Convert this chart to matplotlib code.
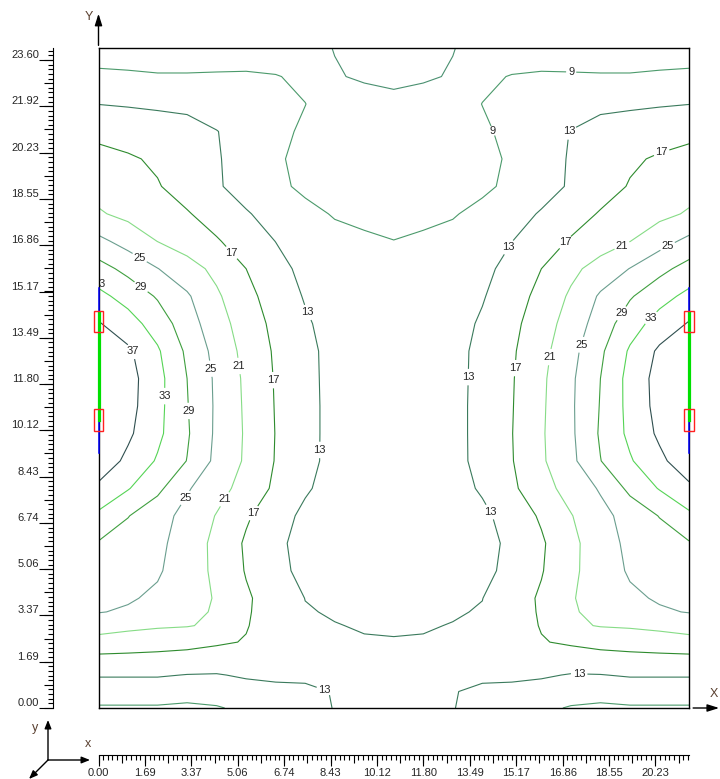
import numpy as np
import matplotlib.pyplot as plt
from matplotlib.patches import Rectangle, FancyArrowPatch

plt.rcParams['font.family'] = ['Liberation Sans', 'DejaVu Sans']

# room size (m)
room_w = 21.45
room_h = 24.04

x_grid = np.linspace(0, room_w, 21)
y_grid = [0.0, 0.6, 1.2, 1.8, 2.4, 3.0, 3.5, 4.0, 5.0, 6.0, 7.0, 8.0, 9.0, 10.0,
          11.0, 12.0, 13.0, 14.0, 15.0, 16.0, 17.0, 18.0, 19.0, 20.0, 21.0, 22.0,
          23.0, 24.04]

# illuminance (lx), one row per y_grid value
lux = np.array([
    [8.6, 8.6, 8.6, 8.3, 8.7, 9.8, 10.9, 12.0, 13.1, 14.0, 14.5, 14.0, 13.1, 12.0, 10.9, 9.8, 8.7, 8.3, 8.6, 8.6, 8.6],
    [10.9, 10.9, 10.9, 10.5, 10.8, 11.65, 12.2, 12.6, 13.1, 14.2, 14.6, 14.2, 13.1, 12.6, 12.2, 11.65, 10.8, 10.5, 10.9, 10.9, 10.9],
    [13.3, 13.3, 13.3, 12.9, 12.8, 13.4, 13.6, 13.4, 13.6, 14.0, 14.2, 14.0, 13.6, 13.4, 13.6, 13.4, 12.8, 12.9, 13.3, 13.3, 13.3],
    [16.1, 16.0, 15.8, 15.5, 15.2, 14.8, 14.2, 13.8, 13.7, 13.6, 13.7, 13.6, 13.7, 13.8, 14.2, 14.8, 15.2, 15.5, 15.8, 16.0, 16.1],
    [19.4, 19.0, 18.7, 18.3, 17.5, 16.8, 14.8, 13.8, 13.5, 13.2, 13.2, 13.2, 13.5, 13.8, 14.8, 16.8, 17.5, 18.3, 18.7, 19.0, 19.4],
    [22.9, 22.0, 21.45, 21.2, 20.4, 17.2, 15.3, 13.4, 13.1, 12.8, 12.6, 12.8, 13.1, 13.4, 15.3, 17.2, 20.4, 21.2, 21.45, 22.0, 22.9],
    [25.15, 24.6, 22.95, 22.0, 20.6, 17.4, 15.2, 13.2, 12.75, 12.4, 12.2, 12.4, 12.75, 13.2, 15.2, 17.4, 20.6, 22.0, 22.95, 24.6, 25.15],
    [25.9, 25.35, 24.4, 22.6, 20.7, 17.5, 15.2, 12.95, 12.4, 12.0, 11.9, 12.0, 12.4, 12.95, 15.2, 17.5, 20.7, 22.6, 24.4, 25.35, 25.9],
    [27.3, 26.3, 25.4, 23.15, 20.1, 16.75, 14.3, 11.8, 11.2, 11.0, 10.9, 11.0, 11.2, 11.8, 14.3, 16.75, 20.1, 23.15, 25.4, 26.3, 27.3],
    [28.7, 27.2, 25.8, 23.4, 19.9, 16.5, 13.9, 11.6, 11.0, 10.8, 10.7, 10.8, 11.0, 11.6, 13.9, 16.5, 19.9, 23.4, 25.8, 27.2, 28.7],
    [32.2, 29.15, 26.5, 23.8, 20.8, 17.5, 14.75, 12.1, 11.4, 11.0, 10.9, 11.0, 11.4, 12.1, 14.75, 17.5, 20.8, 23.8, 26.5, 29.15, 32.2],
    [36.2, 33.25, 29.95, 25.4, 22.5, 19.5, 16.3, 13.5, 11.4, 11.1, 11.0, 11.1, 11.4, 13.5, 16.3, 19.5, 22.5, 25.4, 29.95, 33.25, 36.2],
    [39.5, 36.1, 32.6, 28.9, 24.0, 20.45, 16.8, 14.15, 11.8, 11.2, 11.1, 11.2, 11.8, 14.15, 16.8, 20.45, 24.0, 28.9, 32.6, 36.1, 39.5],
    [41.0, 37.7, 33.9, 29.45, 24.3, 20.55, 16.9, 14.2, 11.8, 11.2, 11.1, 11.2, 11.8, 14.2, 16.9, 20.55, 24.3, 29.45, 33.9, 37.7, 41.0],
    [41.5, 38.35, 34.2, 29.2, 24.4, 20.4, 16.8, 14.2, 11.8, 11.2, 11.1, 11.2, 11.8, 14.2, 16.8, 20.4, 24.4, 29.2, 34.2, 38.35, 41.5],
    [41.5, 38.5, 34.3, 29.0, 24.3, 20.25, 16.7, 14.1, 11.8, 11.2, 11.1, 11.2, 11.8, 14.1, 16.7, 20.25, 24.3, 29.0, 34.3, 38.5, 41.5],
    [40.0, 37.7, 33.5, 28.3, 23.7, 19.8, 16.5, 14.0, 11.8, 11.2, 11.0, 11.2, 11.8, 14.0, 16.5, 19.8, 23.7, 28.3, 33.5, 37.7, 40.0],
    [37.3, 34.6, 31.25, 26.8, 22.7, 19.1, 16.0, 13.5, 11.5, 10.9, 10.8, 10.9, 11.5, 13.5, 16.0, 19.1, 22.7, 26.8, 31.25, 34.6, 37.3],
    [34.0, 31.6, 28.6, 25.5, 21.6, 18.1, 15.3, 12.7, 11.0, 10.4, 10.2, 10.4, 11.0, 12.7, 15.3, 18.1, 21.6, 25.5, 28.6, 31.6, 34.0],
    [30.5, 27.85, 25.1, 22.6, 20.0, 17.0, 14.45, 11.85, 10.3, 9.8, 9.6, 9.8, 10.3, 11.85, 14.45, 17.0, 20.0, 22.6, 25.1, 27.85, 30.5],
    [26.0, 23.5, 20.95, 19.15, 17.35, 15.2, 12.95, 11.4, 10.2, 9.4, 9.05, 9.4, 10.2, 11.4, 12.95, 15.2, 17.35, 19.15, 20.95, 23.5, 26.0],
    [21.4, 20.0, 18.65, 17.3, 15.35, 13.3, 11.65, 10.1, 8.7, 8.4, 8.0, 8.4, 8.7, 10.1, 11.65, 13.3, 15.35, 17.3, 18.65, 20.0, 21.4],
    [19.6, 18.45, 17.25, 15.4, 13.4, 11.6, 9.9, 8.2, 7.5, 7.1, 7.0, 7.1, 7.5, 8.2, 9.9, 11.6, 13.4, 15.4, 17.25, 18.45, 19.6],
    [18.1, 17.45, 16.45, 14.9, 13.3, 11.5, 9.6, 7.8, 6.9, 6.5, 6.3, 6.5, 6.9, 7.8, 9.6, 11.5, 13.3, 14.9, 16.45, 17.45, 18.1],
    [16.1, 15.35, 14.6, 13.8, 13.1, 11.55, 10.0, 8.4, 7.2, 6.2, 5.9, 6.2, 7.2, 8.4, 10.0, 11.55, 13.1, 13.8, 14.6, 15.35, 16.1],
    [12.95, 12.7, 12.5, 12.5, 11.25, 10.5, 9.8, 9.05, 7.3, 6.3, 5.8, 6.3, 7.3, 9.05, 9.8, 10.5, 11.25, 12.5, 12.5, 12.7, 12.95],
    [9.9, 9.6, 9.3, 9.3, 9.4, 9.5, 9.2, 8.2, 5.25, 4.6, 4.3, 4.6, 5.25, 8.2, 9.2, 9.5, 9.4, 9.3, 9.3, 9.6, 9.9],
    [6.8, 6.9, 6.9, 6.9, 6.9, 6.8, 6.5, 6.0, 4.9, 4.2, 3.9, 4.2, 4.9, 6.0, 6.5, 6.8, 6.9, 6.9, 6.9, 6.9, 6.8],
])

levels = [5, 9, 13, 17, 21, 25, 29, 33, 37]
line_colors = ['#4a9070', '#4b9a6b', '#3a7a5c', '#2e8b2e', '#86dc86',
               '#6a9e8e', '#3f9f3f', '#55d455', '#2f4f4f']

# where the iso-line values are written
label_pos = [
    (17.17, 23.16), (14.29, 21.01),
    (7.63, 14.42), (7.99, 9.40), (14.15, 7.10), (13.53, 12.05), (14.88, 16.79),
    (17.06, 21.01), (8.21, 0.66), (17.46, 1.24),
    (4.86, 16.61), (6.32, 11.94), (5.63, 7.10), (15.13, 12.38), (17.02, 16.90), (20.37, 20.50),
    (5.04, 12.45), (4.57, 7.61), (16.40, 12.78), (19.06, 16.75),
    (1.44, 16.31), (4.02, 12.35), (3.11, 7.68), (17.57, 13.22), (20.67, 16.82),
    (1.51, 15.29), (3.26, 10.82), (18.99, 14.38),
    (2.42, 11.36), (20.08, 14.20),
    (1.37, 13.07),
]

# ruler labels
y_tick_labels = ['0.00', '1.69', '3.37', '5.06', '6.74', '8.43', '10.12', '11.80',
                 '13.49', '15.17', '16.86', '18.55', '20.23', '21.92', '23.60']
x_tick_labels = ['0.00', '1.69', '3.37', '5.06', '6.74', '8.43', '10.12', '11.80',
                 '13.49', '15.17', '16.86', '18.55', '20.23']
ruler_step = 23.6 / 14

# luminaires on both long walls
lum_x = [0.0, room_w]
lum_line = (9.29, 15.29)
lum_tube = (10.49, 14.38)
lum_heads = [10.49, 14.07]

text_col = '#262626'

fig = plt.figure(figsize=(7.2, 7.79), dpi=100)
L, B, W, H = 98.5 / 720, 71 / 779, 590.5 / 720, 660 / 779
ax = fig.add_axes([L, B, W, H])

cs = ax.contour(x_grid, y_grid, lux, levels=levels, colors=line_colors, linewidths=0.8)
texts = ax.clabel(cs, fmt='%d', fontsize=8, manual=label_pos, inline=True,
                  inline_spacing=2, colors=text_col)
for t in texts:
    t.set_rotation(0)
ax.text(0.1, 15.45, '3', fontsize=8, ha='center', va='center', color=text_col)

ax.set_xlim(0, room_w)
ax.set_ylim(0, room_h)
ax.set_xticks([])
ax.set_yticks([])
for sp in ax.spines.values():
    sp.set_linewidth(1.0)

for lx in lum_x:
    ax.plot([lx, lx], lum_line, color='#0000ff', lw=1.1, clip_on=False, zorder=5)
    ax.plot([lx, lx], lum_tube, color='#00e000', lw=2.3, clip_on=False, zorder=6)
    for yc in lum_heads:
        ax.add_patch(Rectangle((lx - 0.18, yc - 0.39), 0.36, 0.78, fill=False,
                               ec='#ff2020', lw=1.0, clip_on=False, zorder=7))

# axis arrows
arr = dict(arrowstyle='-|>,head_length=0.7,head_width=0.22', color='black', lw=1.0,
           shrinkA=0, shrinkB=0)
ax.annotate('', xy=(0, 1.052), xytext=(0, 1.004), xycoords='axes fraction',
            arrowprops=arr, annotation_clip=False)
ax.annotate('', xy=(1.051, 0), xytext=(1.007, 0), xycoords='axes fraction',
            arrowprops=arr, annotation_clip=False)
ax.text(-0.016, 1.047, 'Y', transform=ax.transAxes, ha='center', va='center',
        fontsize=9, color='#5a4030')
ax.text(1.042, 0.021, 'X', transform=ax.transAxes, ha='center', va='center',
        fontsize=9, color='#5a4030')

# left ruler
ax_l = fig.add_axes([53 / 720, B, 0.0001, H])
ax_l.set_ylim(0, room_h)
ax_l.set_xticks([])
for s in ['top', 'right', 'bottom']:
    ax_l.spines[s].set_visible(False)
ax_l.set_yticks(np.arange(0, room_h, ruler_step / 2))
ax_l.set_yticks(np.arange(0, room_h, ruler_step / 10), minor=True)
ax_l.tick_params(axis='y', which='major', length=6.5, width=0.8, labelleft=False)
ax_l.tick_params(axis='y', which='minor', length=3.4, width=0.8)

ax_l2 = fig.add_axes([53 / 720, B, 0.0001, H])
ax_l2.patch.set_visible(False)
ax_l2.set_ylim(0, room_h)
ax_l2.set_xticks([])
for s in ax_l2.spines.values():
    s.set_visible(False)
ax_l2.set_yticks([float(v) for v in y_tick_labels], labels=y_tick_labels)
ax_l2.tick_params(axis='y', length=10, width=0.8, pad=0, labelsize=8, labelcolor=text_col)
for t in ax_l2.get_yticklabels():
    t.set_va('bottom')

# bottom ruler
ax_b = fig.add_axes([L, 24 / 779, W, 0.0001])
ax_b.set_xlim(0, room_w)
ax_b.set_yticks([])
for s in ['top', 'right', 'left']:
    ax_b.spines[s].set_visible(False)
ax_b.set_xticks(np.arange(0, room_w, ruler_step / 2))
ax_b.set_xticks(np.arange(0, room_w, ruler_step / 10), minor=True)
ax_b.tick_params(axis='x', which='major', length=5.8, width=0.8, labelbottom=False)
ax_b.tick_params(axis='x', which='minor', length=3.4, width=0.8)

ax_b2 = fig.add_axes([L, 24 / 779, W, 0.0001])
ax_b2.patch.set_visible(False)
ax_b2.set_xlim(0, room_w)
ax_b2.set_yticks([])
for s in ax_b2.spines.values():
    s.set_visible(False)
ax_b2.set_xticks([float(v) for v in x_tick_labels], labels=x_tick_labels)
ax_b2.tick_params(axis='x', length=8, width=0.8, pad=1, labelsize=8, labelcolor=text_col)

# small coordinate triad, bottom left
tri = dict(arrowstyle='-|>,head_length=5,head_width=2', color='black', lw=1.0,
           transform=fig.transFigure, shrinkA=0, shrinkB=0)
o = (48 / 720, 1 - 760 / 779)
for tip in [(48 / 720, 1 - 720 / 779), (90 / 720, 1 - 760 / 779), (29 / 720, 1 - 779 / 779)]:
    fig.add_artist(FancyArrowPatch(o, tip, **tri))
fig.text(35 / 720, 1 - 728 / 779, 'y', ha='center', va='center', fontsize=9, color='#5a4030')
fig.text(88 / 720, 1 - 744 / 779, 'x', ha='center', va='center', fontsize=9, color='#5a4030')

fig.savefig('out.png', dpi=100)
